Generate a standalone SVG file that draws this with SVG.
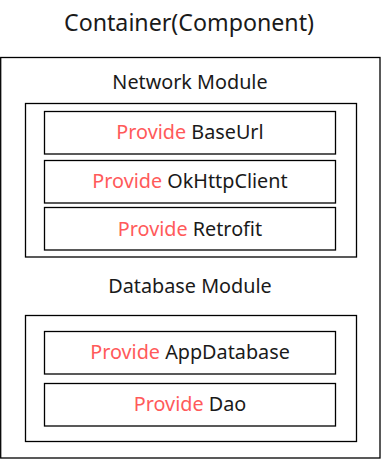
<svg xmlns="http://www.w3.org/2000/svg" width="381" height="459" viewBox="0 0 381 459">
<style>
.box{fill:#fff;stroke:#000;stroke-width:1.3}
text{font-family:"Noto Sans","Open Sans",sans-serif;fill:#1a1a1a;text-anchor:middle}
.t{font-size:23.2px}
.m{font-size:19.8px}
.p{fill:#ff5a5a}
</style>
<rect width="381" height="459" fill="#fff"/>
<text class="t" x="189" y="31">Container(Component)</text>
<g id="container">
<rect class="box" x="0.7" y="57.5" width="379.3" height="400.5"/>
</g>
<g id="network-module">
<text class="m" x="190" y="89">Network Module</text>
<rect class="box" x="25.5" y="103.5" width="331" height="153.5"/>
</g>
<g id="provide-baseurl">
<rect class="box" x="44.5" y="111.5" width="291" height="42.5"/>
<text class="m" x="190" y="139"><tspan class="p">Provide</tspan> BaseUrl</text>
</g>
<g id="provide-okhttpclient">
<rect class="box" x="44.5" y="160.5" width="291" height="42.5"/>
<text class="m" x="190" y="188"><tspan class="p">Provide</tspan> OkHttpClient</text>
</g>
<g id="provide-retrofit">
<rect class="box" x="44.5" y="207.5" width="291" height="42.5"/>
<text class="m" x="190" y="236"><tspan class="p">Provide</tspan> Retrofit</text>
</g>
<g id="database-module">
<text class="m" x="190" y="293">Database Module</text>
<rect class="box" x="25.5" y="315.5" width="331" height="126"/>
</g>
<g id="provide-appdatabase">
<rect class="box" x="44.5" y="331.5" width="291" height="42.5"/>
<text class="m" x="190" y="359"><tspan class="p">Provide</tspan> AppDatabase</text>
</g>
<g id="provide-dao">
<rect class="box" x="44.5" y="383.5" width="291" height="42.5"/>
<text class="m" x="190" y="411"><tspan class="p">Provide</tspan> Dao</text>
</g>
<g id="connectors"></g>
</svg>
